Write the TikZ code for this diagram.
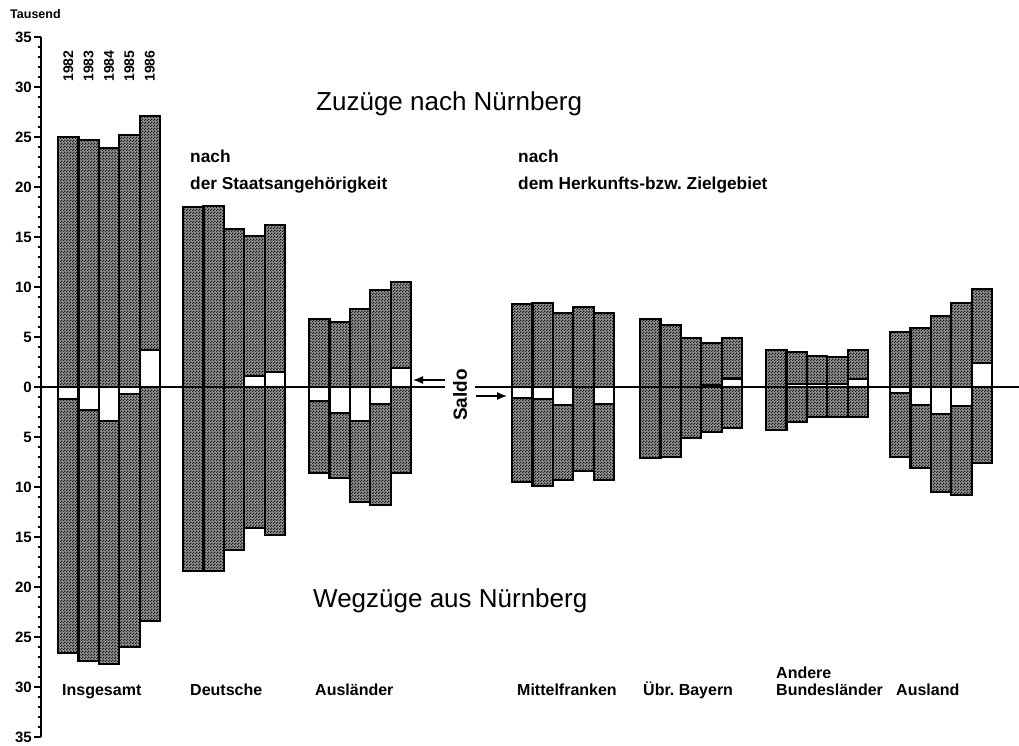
\documentclass[tikz,border=0pt]{standalone}
\usepackage{fontspec}
\setmainfont{Liberation Sans}
\frenchspacing
\usetikzlibrary{patterns,arrows.meta}
\pgfdeclarepatternformonly{checker}{\pgfqpoint{0pt}{0pt}}{\pgfqpoint{3pt}{3pt}}{\pgfqpoint{3pt}{3pt}}{%
  \pgfpathrectangle{\pgfqpoint{0pt}{0pt}}{\pgfqpoint{1.5pt}{1.5pt}}%
  \pgfpathrectangle{\pgfqpoint{1.5pt}{1.5pt}}{\pgfqpoint{1.5pt}{1.5pt}}%
  \pgfusepath{fill}}
\tikzset{
  barz/.style={draw=black, line width=2.2pt, preaction={fill=black!42}, pattern=checker, pattern color=black!90},
  saldobox/.style={draw=black, line width=2.2pt, fill=white},
  axisline/.style={line width=2pt},
  zeroline/.style={line width=1.3pt},
  minortick/.style={line width=1.3pt},
  majortick/.style={line width=2pt},
  ticklab/.style={font=\bfseries\fontsize{15}{15}\selectfont, anchor=east, inner sep=0pt},
  yearlab/.style={font=\bfseries\fontsize{14}{14}\selectfont, rotate=90, anchor=center, inner sep=0pt},
  grouplab/.style={font=\bfseries\fontsize{16}{16}\selectfont, anchor=base west, inner sep=0pt},
  sublab/.style={font=\bfseries\fontsize{17.3}{17.3}\selectfont, anchor=base west, inner sep=0pt},
  bigtitle/.style={font=\fontsize{26}{26}\selectfont, anchor=base west, inner sep=0pt},
  saldoarrow/.style={line width=1.3pt, -{Latex[length=10pt,width=8pt]}}
}
% \balken{group x}{index}{Zuzuege}{Wegzuege}{Saldo}
\newcommand\balken[5]{%
  \pgfmathsetmacro\bx{#1+20.4*(#2-1)}%
  \pgfmathsetmacro\bxr{\bx+20.4}%
  \pgfmathsetmacro\su{max(#5,0)}%
  \pgfmathsetmacro\sd{max(-(#5),0)}%
  \draw[barz] (\bx,{387-10*\su}) rectangle (\bxr,{387-10*(#3)});
  \draw[barz] (\bx,{387+10*\sd}) rectangle (\bxr,{387+10*(#4)});
  \draw[saldobox] (\bx,387) rectangle (\bxr,{387-10*(#5)});
}
\begin{document}
\begin{tikzpicture}[x=1pt,y=-1pt]
\useasboundingbox (0,0) rectangle (1019,745);

% axis
\draw[axisline] (41,37) -- (41,737);
\foreach \v in {-35,...,35} {\draw[minortick] (37.5,{387-10*\v}) -- (41,{387-10*\v});}
\foreach \v in {-35,-30,...,35} {\draw[majortick] (34,{387-10*\v}) -- (41,{387-10*\v});}
\foreach \v in {5,10,...,35} {
  \node[ticklab] (tu\v) at (32,{387-10*\v}) {\v};
  \node[ticklab] (td\v) at (32,{387+10*\v}) {\v};
}
\node[ticklab] (t0) at (32,387) {0};
\node[font=\bfseries\fontsize{12.5}{12.5}\selectfont, anchor=base west, inner sep=0pt] (tausend) at (10,18) {Tausend};

% years
\foreach \y [count=\i] in {1982,1983,1984,1985,1986} {
  \node[yearlab] (y\y) at ({68.2+20.4*(\i-1)},66) {\y};
}

% Insgesamt
\balken{58}{1}{25.0}{26.6}{-1.2}
\balken{58}{2}{24.7}{27.4}{-2.3}
\balken{58}{3}{23.9}{27.7}{-3.4}
\balken{58}{4}{25.2}{26.0}{-0.7}
\balken{58}{5}{27.1}{23.4}{3.7}
% Deutsche
\balken{183}{1}{18.0}{18.4}{0}
\balken{183}{2}{18.1}{18.4}{0}
\balken{183}{3}{15.8}{16.3}{0}
\balken{183}{4}{15.1}{14.1}{1.1}
\balken{183}{5}{16.2}{14.8}{1.5}
% Auslaender
\balken{309}{1}{6.8}{8.6}{-1.4}
\balken{309}{2}{6.5}{9.1}{-2.6}
\balken{309}{3}{7.8}{11.5}{-3.4}
\balken{309}{4}{9.7}{11.8}{-1.7}
\balken{309}{5}{10.5}{8.6}{1.9}
% Mittelfranken
\balken{512}{1}{8.3}{9.5}{-1.1}
\balken{512}{2}{8.4}{9.9}{-1.2}
\balken{512}{3}{7.4}{9.3}{-1.8}
\balken{512}{4}{8.0}{8.4}{0}
\balken{512}{5}{7.4}{9.3}{-1.7}
% Uebr. Bayern
\balken{640}{1}{6.8}{7.1}{0}
\balken{640}{2}{6.2}{7.0}{0}
\balken{640}{3}{4.9}{5.1}{0}
\balken{640}{4}{4.4}{4.5}{0.2}
\balken{640}{5}{4.9}{4.1}{0.85}
% Andere Bundeslaender
\balken{766}{1}{3.7}{4.3}{0}
\balken{766}{2}{3.5}{3.5}{0.3}
\balken{766}{3}{3.1}{3.0}{0.3}
\balken{766}{4}{3.0}{3.0}{0.3}
\balken{766}{5}{3.7}{3.0}{0.8}
% Ausland
\balken{890}{1}{5.5}{7.0}{-0.6}
\balken{890}{2}{5.9}{8.1}{-1.8}
\balken{890}{3}{7.1}{10.5}{-2.7}
\balken{890}{4}{8.4}{10.8}{-1.9}
\balken{890}{5}{9.8}{7.6}{2.4}

% Saldo
\node[font=\bfseries\fontsize{19}{19}\selectfont, rotate=90, inner sep=0pt] (saldo) at (460,395) {Saldo};
\coordinate (z0) at (41,387);
\coordinate (zl) at (445,387);
\coordinate (zr) at (475,387);
\coordinate (zend) at (1019,387);
\draw[zeroline] (z0) -- (zl);
\draw[zeroline] (zr) -- (zend);
\coordinate (al1) at (445,380);
\coordinate (al2) at (413,380);
\coordinate (ar1) at (476,396);
\coordinate (ar2) at (507,396);
\draw[saldoarrow] (al1) -- (al2);
\draw[saldoarrow] (ar1) -- (ar2);

% titles
\node[bigtitle] (zuz) at (316,110) {Zuzüge nach Nürnberg};
\node[bigtitle] (weg) at (313,607) {Wegzüge aus Nürnberg};
\node[sublab] (n1) at (190,162) {nach};
\node[sublab] (n1b) at (190,189) {der Staatsangehörigkeit};
\node[sublab] (n2) at (518,162) {nach};
\node[sublab] (n2b) at (518,189) {dem Herkunfts-bzw. Zielgebiet};

% group labels
\node[grouplab] (g1) at (62,695) {Insgesamt};
\node[grouplab] (g2) at (190,695) {Deutsche};
\node[grouplab] (g3) at (315,695) {Ausländer};
\node[grouplab] (g4) at (517,695) {Mittelfranken};
\node[grouplab] (g5) at (643,695) {Übr. Bayern};
\node[grouplab] (g6a) at (776,678) {Andere};
\node[grouplab] (g6) at (776,695) {Bundesländer};
\node[grouplab] (g7) at (896,695) {Ausland};
\end{tikzpicture}
\end{document}
